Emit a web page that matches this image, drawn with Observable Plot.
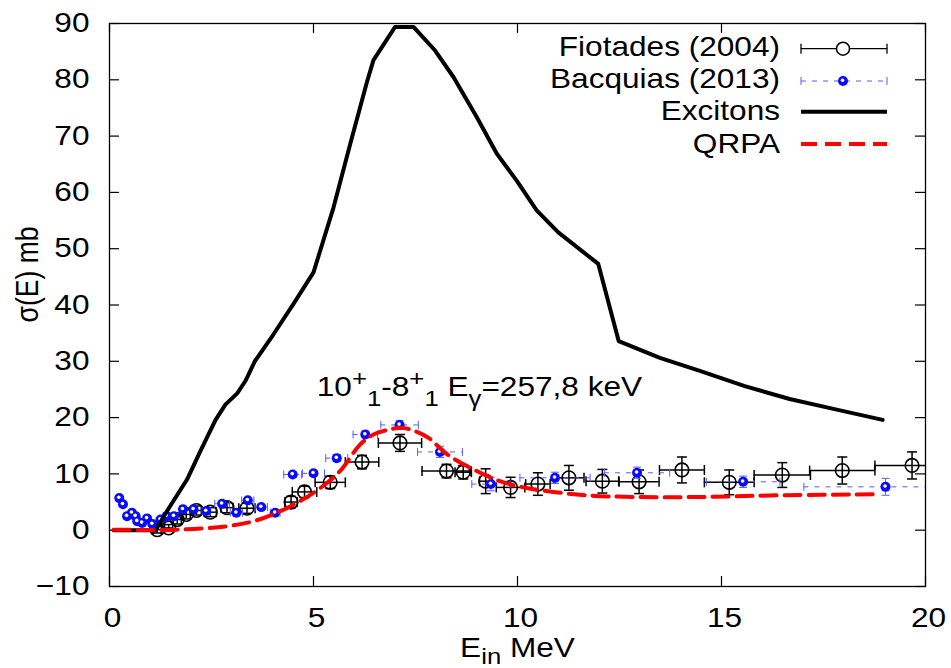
<!DOCTYPE html>
<html><head><meta charset="utf-8">
<script src="https://cdn.jsdelivr.net/npm/d3@7"></script>
<script src="https://cdn.jsdelivr.net/npm/@observablehq/plot@0.6"></script>
<style>
body{margin:0;background:#fff;}
#chart{position:relative;width:951px;height:668px;}
#legend{position:absolute;left:0;top:0;pointer-events:none;}
</style></head><body><div id="chart"></div>
<script>
// ---- data ----
const xTicks = [0, 5, 10, 15, 20];
const yTicks = [-10, 0, 10, 20, 30, 40, 50, 60, 70, 80, 90];

// Fiotades (2004)
const fioX  = [1.17,1.45,1.66,1.88,2.13,2.47,2.88,3.37,4.45,4.78,5.41,6.19,7.12,8.26,8.67,9.22,9.83,10.5,11.26,12.08,12.98,14.03,15.19,16.49,17.96,19.67];
const fioY  = [0.1,0.4,1.9,2.8,3.5,3.2,4.0,3.9,5.0,6.8,8.5,12.1,15.5,10.5,10.3,8.7,7.6,8.2,9.3,8.7,8.6,10.7,8.5,9.8,10.6,11.5];
const fioDX = [0.1,0.1,0.1,0.1,0.12,0.15,0.15,0.2,0.15,0.3,0.37,0.41,0.53,0.6,0.2,0.15,0.35,0.3,0.37,0.4,0.49,0.55,0.61,0.69,0.8,0.91];
const fioDY = [0.6,0.6,0.8,0.8,0.8,0.8,0.9,0.9,1.0,1.0,1.1,1.2,1.5,1.2,1.2,2.2,1.8,2.0,2.2,2.1,2.1,2.3,2.2,2.2,2.4,2.4];

// Bacquias (2013)
const bacX  = [0.24,0.33,0.43,0.55,0.64,0.68,0.80,0.92,1.05,1.25,1.40,1.58,1.80,2.06,2.37,2.76,3.11,3.39,3.72,4.06,4.49,5.0,5.57,6.27,7.11,8.1,9.35,10.92,12.93,15.53,19.02];
const bacY  = [5.7,4.6,2.5,3.1,2.5,1.6,1.3,2.1,1.1,1.9,2.5,2.5,3.7,3.7,3.4,4.7,3.1,5.3,4.1,3.1,9.9,10.1,12.8,17.0,18.7,13.9,8.2,9.3,10.2,8.6,7.7];
const bacDX = [0.03,0.03,0.03,0.03,0.03,0.03,0.03,0.03,0.03,0.05,0.05,0.05,0.08,0.08,0.1,0.18,0.15,0.15,0.15,0.12,0.22,0.27,0.27,0.3,0.46,0.55,0.47,0.86,0.8,0.9,2.0];
const bacDY = [0.3,0.3,0.3,0.3,0.3,0.3,0.3,0.3,0.3,0.3,0.3,0.3,0.4,0.4,0.4,0.4,0.4,0.4,0.4,0.4,0.5,0.5,0.6,0.6,0.8,1.0,1.2,1.0,1.0,1.0,1.5];

// Excitons
const excX = [0.1,1.13,1.41,1.9,2.23,2.6,2.84,3.13,3.33,3.57,4.02,4.51,5.0,5.49,5.9,6.31,6.47,7.0,7.45,7.98,8.43,9.0,9.49,9.98,10.47,11.0,11.98,12.48,13.49,14.47,15.57,16.67,17.77,18.95];
const excY = [0,0,3.4,9.0,14.1,19.6,22.3,24.3,26.5,30.1,34.8,40.2,45.8,57.3,68.6,79.6,83.5,89.4,89.4,85.2,80.5,73.4,66.9,62.1,56.8,52.9,47.3,33.6,30.6,28.3,25.6,23.3,21.5,19.6];

// QRPA
const qX = [0.1,1.66,2.88,3.53,4.1,4.68,5.17,5.65,6.14,6.47,6.88,7.15,7.45,7.82,8.27,8.92,9.57,10.23,10.88,11.69,12.84,14.47,16.43,18.87];
const qY = [0.1,0.1,0.7,1.6,3.1,5.2,7.5,10.5,15.2,17.0,17.9,18.2,17.7,16.4,13.5,10.8,8.7,7.5,6.8,6.2,5.9,5.9,6.2,6.4];

const seriesNames = ["Fiotades (2004)", "Bacquias (2013)", "Excitons", "QRPA"];
const annotation = {x: 5.08, y: 23.8};
const annParts = [["10"],["+","sup"],["1","sub"],["-8"],["+","sup"],["1","sub"],[" E"],["\u03b3","sub"],["=257,8 keV"]];
const xLabelParts = [["E"],["in","sub"],[" MeV"]];
const yLabel = "\u03c3(E) mb";

// ---- layout ----
const W = 951, H = 668, ML = 109, MR = 26, MT = 23, MB = 82;
const PW = W - ML - MR, PH = H - MT - MB;
const FONT = '"Liberation Sans", Arial, Helvetica, sans-serif';
const FS = 27, SX = 1.17, TICK = 10;
const BLUE = "#0a0aff", LBLUE = "#5a5aff", RED = "#ff0000";

const fio = fioX.map((x, i) => ({x, y: fioY[i], dx: fioDX[i], dy: fioDY[i]}));
const bac = bacX.map((x, i) => ({x, y: bacY[i], dx: bacDX[i], dy: bacDY[i]}));
const exc = excX.map((x, i) => ({x, y: excY[i]}));
const qrpa = qX.map((x, i) => ({x, y: qY[i]}));

const xCaps = arr => arr.flatMap(d => [{x: d.x - d.dx, y: d.y}, {x: d.x + d.dx, y: d.y}]).filter(d => d.x <= 20 && d.x >= 0);
const yCaps = arr => arr.flatMap(d => [{x: d.x, y: d.y - d.dy}, {x: d.x, y: d.y + d.dy}]);

const vbar = {draw(ctx, size) { const r = Math.sqrt(size / Math.PI); ctx.moveTo(0, -r); ctx.lineTo(0, r); }};
const hbar = {draw(ctx, size) { const r = Math.sqrt(size / Math.PI); ctx.moveTo(-r, 0); ctx.lineTo(r, 0); }};

const annText = annParts.map(p => p[0]).join("");
const xLabelText = xLabelParts.map(p => p[0]).join("");

const chart = Plot.plot({
  width: W, height: H,
  marginLeft: ML, marginRight: MR, marginTop: MT, marginBottom: MB,
  style: {fontFamily: FONT, fontSize: FS + "px", background: "white", color: "black", overflow: "visible"},
  x: {domain: [0, 20]},
  y: {domain: [-10, 90]},
  marks: [
    Plot.axisX(xTicks, {tickSize: 0, tickPadding: 21, label: null, dx: 3, fontSize: FS}),
    Plot.axisY(yTicks, {tickSize: 0, tickPadding: 20, label: null, fontSize: FS}),
    Plot.tickX(xTicks, {x: d => d, insetTop: PH - TICK, stroke: "black", strokeWidth: 1.2}),
    Plot.tickX(xTicks, {x: d => d, insetBottom: PH - TICK, stroke: "black", strokeWidth: 1.2}),
    Plot.tickY(yTicks, {y: d => d, insetRight: PW - TICK, stroke: "black", strokeWidth: 1.2}),
    Plot.tickY(yTicks, {y: d => d, insetLeft: PW - TICK, stroke: "black", strokeWidth: 1.2}),
    // Fiotades
    Plot.ruleY(fio, {y: "y", x1: d => d.x - d.dx, x2: d => Math.min(d.x + d.dx, 20), stroke: "black", strokeWidth: 1.5}),
    Plot.ruleX(fio, {x: "x", y1: d => d.y - d.dy, y2: d => d.y + d.dy, stroke: "black", strokeWidth: 1.5}),
    Plot.dot(xCaps(fio), {x: "x", y: "y", symbol: vbar, r: 5, stroke: "black", fill: "none", strokeWidth: 1.5}),
    Plot.dot(yCaps(fio), {x: "x", y: "y", symbol: hbar, r: 5, stroke: "black", fill: "none", strokeWidth: 1.5}),
    Plot.dot(fio, {x: "x", y: "y", r: 6.8, stroke: "black", fill: "none", strokeWidth: 1.6}),
    // Bacquias
    Plot.ruleY(bac, {y: "y", x1: d => d.x - d.dx, x2: d => Math.min(d.x + d.dx, 20), stroke: LBLUE, strokeWidth: 1, strokeDasharray: "5,6"}),
    Plot.ruleX(bac, {x: "x", y1: d => d.y - d.dy, y2: d => d.y + d.dy, stroke: LBLUE, strokeWidth: 1, strokeDasharray: "5,6"}),
    Plot.dot(xCaps(bac), {x: "x", y: "y", symbol: vbar, r: 4, stroke: LBLUE, fill: "none", strokeWidth: 1}),
    Plot.dot(yCaps(bac), {x: "x", y: "y", symbol: hbar, r: 4, stroke: LBLUE, fill: "none", strokeWidth: 1}),
    Plot.dot(bac, {x: "x", y: "y", r: 5, fill: BLUE, stroke: "none"}),
    Plot.dot(bac, {x: "x", y: "y", r: 1.8, fill: "white", stroke: "none", dx: -0.5, dy: -0.8}),
    // Excitons
    Plot.line(exc, {x: "x", y: "y", stroke: "black", strokeWidth: 4, strokeLinejoin: "round"}),
    // QRPA
    Plot.line(qrpa, {x: "x", y: "y", stroke: RED, strokeWidth: 4, strokeDasharray: "16,8", curve: "catmull-rom"}),
    Plot.frame({stroke: "black", strokeWidth: 1.3}),
    // texts
    Plot.text([annotation], {x: "x", y: "y", text: () => annText, textAnchor: "start", lineAnchor: "bottom", fontSize: FS}),
    Plot.text([xLabelText], {text: d => d, frameAnchor: "bottom", lineAnchor: "bottom", textAnchor: "middle", dy: 70, fontSize: FS})
  ]
});

document.getElementById("chart").appendChild(chart);

const allTexts = Array.from(chart.querySelectorAll("text"));
const findText = s => allTexts.find(t => t.textContent === s);

function richText(textEl, parts, subShift = 10) {
  if (!textEl) return;
  textEl.textContent = "";
  let shift = 0;
  for (const [t, kind] of parts) {
    const ts = document.createElementNS("http://www.w3.org/2000/svg", "tspan");
    const target = kind === "sup" ? -10 : kind === "sub" ? subShift : 0;
    const d = target - shift;
    if (d !== 0) ts.setAttribute("dy", d);
    shift = target;
    if (kind) ts.setAttribute("font-size", Math.round(FS * 0.8));
    ts.textContent = t;
    textEl.appendChild(ts);
  }
}
richText(findText(annText), annParts, 10);
richText(findText(xLabelText), xLabelParts, 7);

function stretch(el) {
  const tr = el.getAttribute("transform");
  if (tr && /translate\([^)]*\)/.test(tr)) {
    el.setAttribute("transform", tr.replace(/(translate\([^)]*\))/, `$1 scale(${SX},1)`));
  } else {
    const x = +(el.getAttribute("x") || 0), y = +(el.getAttribute("y") || 0);
    el.removeAttribute("x"); el.removeAttribute("y");
    el.setAttribute("transform", `translate(${x},${y}) scale(${SX},1)` + (tr ? " " + tr : ""));
  }
}
allTexts.forEach(stretch);

// y-axis label (rotated), centred a little above the frame middle as in the reference
d3.select(chart).append("text")
  .attr("font-family", FONT).attr("font-size", FS).attr("fill", "black")
  .attr("text-anchor", "middle")
  .attr("textLength", 96).attr("lengthAdjust", "spacingAndGlyphs")
  .attr("transform", `translate(${ML - 82},${MT + PH / 2 - 30}) rotate(-90) scale(1,${SX})`)
  .attr("dy", "0.35em")
  .text(yLabel);

// legend (inside plot, top right)
const leg = d3.select("#chart").append("svg").attr("id", "legend").attr("width", W).attr("height", 200)
  .style("font-family", FONT).style("font-size", FS + "px");
const rows = [
  {name: seriesNames[0], base: 56, ly: 48.7},
  {name: seriesNames[1], base: 88.3, ly: 81},
  {name: seriesNames[2], base: 120, ly: 111.7},
  {name: seriesNames[3], base: 152.5, ly: 144}
];
const L1 = 801, L2 = 887, LC = 843;
rows.forEach(r => {
  leg.append("text").attr("text-anchor", "end").attr("transform", `translate(780,${r.base}) scale(${SX},1)`).text(r.name);
});
let g = leg.append("g");
g.append("line").attr("x1", L1).attr("x2", L2).attr("y1", rows[0].ly).attr("y2", rows[0].ly).attr("stroke", "black").attr("stroke-width", 1.3);
[L1, L2].forEach(x => g.append("line").attr("x1", x).attr("x2", x).attr("y1", rows[0].ly - 5).attr("y2", rows[0].ly + 5).attr("stroke", "black").attr("stroke-width", 1.3));
g.append("circle").attr("cx", LC).attr("cy", rows[0].ly).attr("r", 6.5).attr("fill", "white").attr("stroke", "black").attr("stroke-width", 1.5);
g = leg.append("g");
g.append("line").attr("x1", L1).attr("x2", L2).attr("y1", rows[1].ly).attr("y2", rows[1].ly).attr("stroke", LBLUE).attr("stroke-width", 1).attr("stroke-dasharray", "5,6");
[L1, L2].forEach(x => g.append("line").attr("x1", x).attr("x2", x).attr("y1", rows[1].ly - 4).attr("y2", rows[1].ly + 4).attr("stroke", LBLUE).attr("stroke-width", 1));
g.append("circle").attr("cx", LC).attr("cy", rows[1].ly).attr("r", 5).attr("fill", BLUE);
g.append("circle").attr("cx", LC - 0.5).attr("cy", rows[1].ly - 0.8).attr("r", 1.8).attr("fill", "white");
leg.append("line").attr("x1", L1).attr("x2", L2).attr("y1", rows[2].ly).attr("y2", rows[2].ly).attr("stroke", "black").attr("stroke-width", 4);
leg.append("line").attr("x1", L1).attr("x2", L2).attr("y1", rows[3].ly).attr("y2", rows[3].ly).attr("stroke", RED).attr("stroke-width", 4).attr("stroke-dasharray", "16,8");
</script>
</body></html>
